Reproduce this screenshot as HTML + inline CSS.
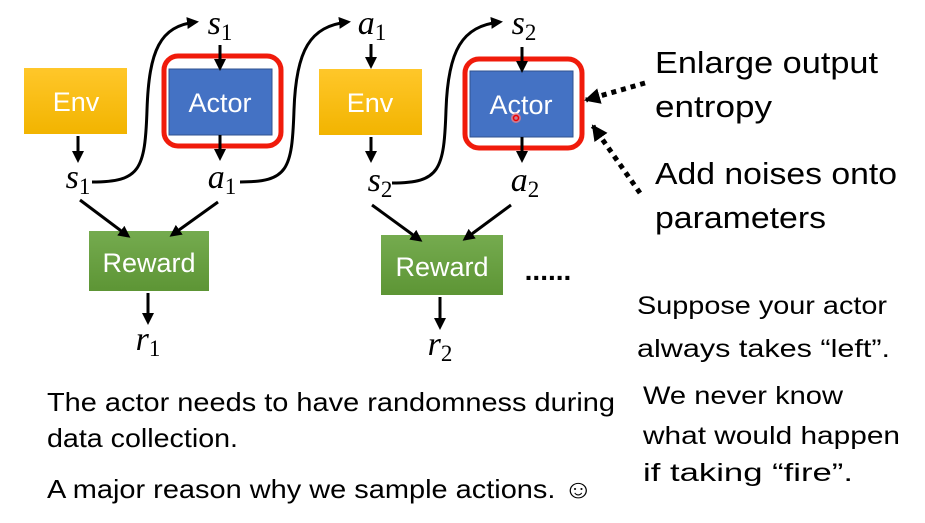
<!DOCTYPE html>
<html><head><meta charset="utf-8"><style>
html,body{margin:0;padding:0;background:#fff;}
svg{display:block}
.lbl{font-family:"Liberation Sans",sans-serif;fill:#fff;font-size:27px;text-anchor:middle}
.m{font-family:"Liberation Serif",serif;font-style:italic;font-size:34px;fill:#000;text-anchor:middle}
.sub{font-style:normal;font-size:23px}
.t{font-family:"Liberation Sans","DejaVu Sans",sans-serif;fill:#000}
</style></head><body>
<svg width="925" height="523" viewBox="0 0 925 523" xmlns="http://www.w3.org/2000/svg">
<defs>
<marker id="ah" markerWidth="12" markerHeight="12" refX="9" refY="6" orient="auto" markerUnits="userSpaceOnUse"><path d="M0,0 L12,6 L0,12 z" fill="#000"/></marker>
<marker id="ah2" markerWidth="16" markerHeight="16" refX="14" refY="8" orient="auto" markerUnits="userSpaceOnUse"><path d="M0,0 L16,8 L0,16 z" fill="#000"/></marker>
<linearGradient id="gy" x1="0" y1="0" x2="0" y2="1"><stop offset="0" stop-color="#ffc72a"/><stop offset="1" stop-color="#f2b400"/></linearGradient>
<linearGradient id="gg" x1="0" y1="0" x2="0" y2="1"><stop offset="0" stop-color="#75ab4f"/><stop offset="1" stop-color="#5d9535"/></linearGradient>
</defs>
<rect x="24" y="68" width="103" height="66" fill="url(#gy)"/>
<text class="lbl" x="76" y="111">Env</text>
<rect x="169" y="69" width="103" height="66" fill="#4472c4" stroke="#2f528f"/>
<text class="lbl" x="220" y="112">Actor</text>
<rect x="164" y="56" width="117" height="90" rx="14" fill="none" stroke="#f01b0b" stroke-width="5"/>
<rect x="319" y="69" width="103" height="66" fill="url(#gy)"/>
<text class="lbl" x="370" y="112">Env</text>
<rect x="470" y="71" width="103" height="66" fill="#4472c4" stroke="#2f528f"/>
<text class="lbl" x="521" y="114">Actor</text>
<rect x="465" y="59" width="117" height="89" rx="14" fill="none" stroke="#f01b0b" stroke-width="5"/>
<circle cx="516" cy="118" r="5" fill="#ff8080" opacity="0.7"/><circle cx="516" cy="118" r="2.5" fill="none" stroke="#e00" stroke-width="1.5"/>
<rect x="89" y="231" width="120" height="60" fill="url(#gg)"/>
<text class="lbl" x="149" y="272">Reward</text>
<rect x="381" y="235" width="122" height="60" fill="url(#gg)"/>
<text class="lbl" x="442" y="276">Reward</text>
<text x="548" y="280" font-family="Liberation Sans" font-size="28" font-weight="bold" text-anchor="middle">......</text>
<g>
<text class="m" x="220" y="34">s<tspan class="sub" dy="6">1</tspan></text>
<text class="m" x="372" y="34">a<tspan class="sub" dy="6">1</tspan></text>
<text class="m" x="524" y="34">s<tspan class="sub" dy="6">2</tspan></text>
<text class="m" x="78" y="188">s<tspan class="sub" dy="6">1</tspan></text>
<text class="m" x="222" y="188">a<tspan class="sub" dy="6">1</tspan></text>
<text class="m" x="380" y="191">s<tspan class="sub" dy="6">2</tspan></text>
<text class="m" x="525" y="191">a<tspan class="sub" dy="6">2</tspan></text>
<text class="m" x="148" y="350">r<tspan class="sub" dy="6">1</tspan></text>
<text class="m" x="440" y="355">r<tspan class="sub" dy="6">2</tspan></text>
</g>
<g stroke="#000" stroke-width="3" fill="none" marker-end="url(#ah)">
<line x1="78" y1="136" x2="78" y2="160"/>
<line x1="220" y1="45" x2="220" y2="68"/>
<line x1="220" y1="135" x2="220" y2="158"/>
<line x1="371" y1="44" x2="371" y2="66"/>
<line x1="371" y1="137" x2="371" y2="160"/>
<line x1="522" y1="47" x2="522" y2="70"/>
<line x1="522" y1="137" x2="522" y2="160"/>
<line x1="80" y1="200" x2="128" y2="236"/>
<line x1="218" y1="202" x2="172" y2="235"/>
<line x1="372" y1="205" x2="420" y2="240"/>
<line x1="511" y1="205" x2="465" y2="239"/>
<line x1="148" y1="293" x2="148" y2="322"/>
<line x1="440" y1="297" x2="440" y2="327"/>
<path d="M92,182 C140,182 145,170 147,110 C149,50 160,26 196,22"/>
<path d="M240,182 C288,182 292,170 294,110 C296,50 310,26 348,22"/>
<path d="M392,183 C440,183 444,170 446,110 C448,50 462,26 500,22"/>
</g>
<g stroke="#000" stroke-width="5" stroke-dasharray="5,5" fill="none" marker-end="url(#ah2)">
<line x1="645" y1="83" x2="586" y2="100"/>
<line x1="640" y1="193" x2="593" y2="126"/>
</g>
<g class="t" font-size="31">
<text x="655" y="73" textLength="223" lengthAdjust="spacingAndGlyphs">Enlarge output</text>
<text x="655" y="117" textLength="117" lengthAdjust="spacingAndGlyphs">entropy</text>
<text x="655" y="184" textLength="242" lengthAdjust="spacingAndGlyphs">Add noises onto</text>
<text x="655" y="228" textLength="171" lengthAdjust="spacingAndGlyphs">parameters</text>
</g>
<g class="t" font-size="25">
<text x="637" y="314" textLength="250" lengthAdjust="spacingAndGlyphs">Suppose your actor</text>
<text x="637" y="357" textLength="253" lengthAdjust="spacingAndGlyphs">always takes “left”.</text>
<text x="643" y="404" textLength="200" lengthAdjust="spacingAndGlyphs">We never know</text>
<text x="643" y="444" textLength="257" lengthAdjust="spacingAndGlyphs">what would happen</text>
<text x="643" y="481" textLength="210" lengthAdjust="spacingAndGlyphs">if taking “fire”.</text>
</g>
<g class="t" font-size="26">
<text x="47" y="411" textLength="568" lengthAdjust="spacingAndGlyphs">The actor needs to have randomness during</text>
<text x="47" y="447" textLength="191" lengthAdjust="spacingAndGlyphs">data collection.</text>
<text x="47" y="498" textLength="546" lengthAdjust="spacingAndGlyphs">A major reason why we sample actions. ☺</text>
</g>
</svg>
</body></html>
